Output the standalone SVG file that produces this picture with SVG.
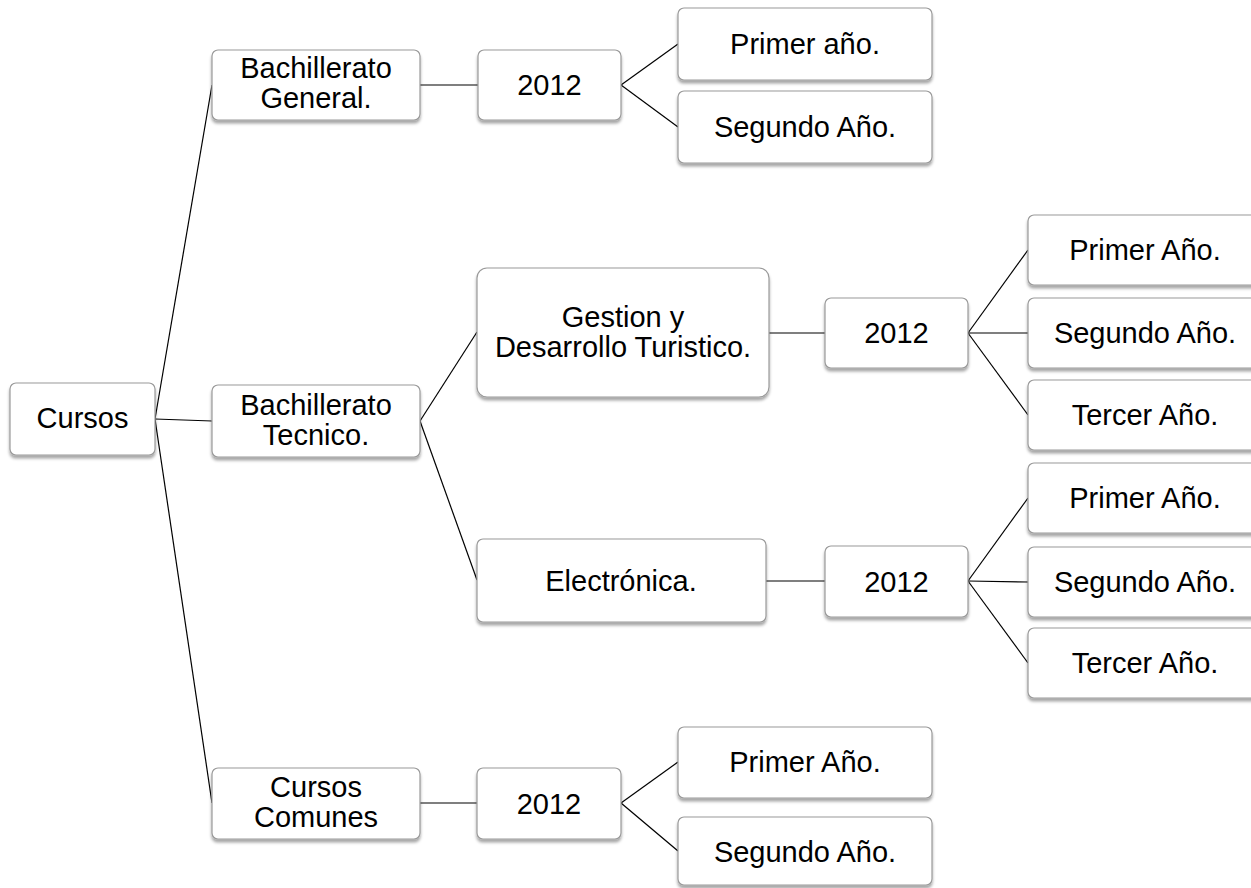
<svg xmlns="http://www.w3.org/2000/svg" width="1251" height="888" viewBox="0 0 1251 888">
<defs>
<filter id="sh" x="-10%" y="-10%" width="120%" height="130%">
<feDropShadow dx="0" dy="3" stdDeviation="1.8" flood-color="#000" flood-opacity="0.35"/>
</filter>
<style>
.box{fill:#fff;stroke:#9a9a9a;stroke-width:1.2;filter:url(#sh)}
.t{font-family:"Liberation Sans",Arial,sans-serif;font-size:29px;fill:#000;text-anchor:middle}
.c line{stroke:#000;stroke-width:1.2}
</style>
</defs>
<rect width="1251" height="888" fill="#fff"/>
<g class="c" id="connectors">
<line x1="155" y1="419" x2="212" y2="85"/>
<line x1="155" y1="419" x2="212" y2="421"/>
<line x1="155" y1="419" x2="212" y2="803"/>
<line x1="420" y1="85" x2="478" y2="85"/>
<line x1="621" y1="85" x2="678" y2="44"/>
<line x1="621" y1="85" x2="678" y2="127"/>
<line x1="420" y1="421" x2="477" y2="332"/>
<line x1="420" y1="421" x2="477" y2="580"/>
<line x1="769" y1="333" x2="825" y2="333"/>
<line x1="968" y1="333" x2="1028" y2="250"/>
<line x1="968" y1="333" x2="1028" y2="333"/>
<line x1="968" y1="333" x2="1028" y2="415"/>
<line x1="766" y1="581" x2="825" y2="581"/>
<line x1="968" y1="581" x2="1028" y2="498"/>
<line x1="968" y1="581" x2="1028" y2="582"/>
<line x1="968" y1="581" x2="1028" y2="663"/>
<line x1="420" y1="803" x2="477" y2="803"/>
<line x1="621" y1="803" x2="678" y2="762"/>
<line x1="621" y1="803" x2="678" y2="851"/>
</g>
<g id="cursos"><rect class="box" x="10" y="383" width="145" height="72" rx="6"/><text class="t" x="82.5" y="428">Cursos</text></g>
<g id="bgen"><rect class="box" x="212" y="50" width="208" height="70" rx="6"/><text class="t" x="316" y="78">Bachillerato</text><text class="t" x="316" y="108">General.</text></g>
<g id="bgen2012"><rect class="box" x="478" y="50" width="143" height="70" rx="6"/><text class="t" x="549.5" y="95">2012</text></g>
<g id="bgen_p1"><rect class="box" x="678" y="8" width="254" height="72" rx="6"/><text class="t" x="805" y="54">Primer año.</text></g>
<g id="bgen_p2"><rect class="box" x="678" y="91" width="254" height="72" rx="6"/><text class="t" x="805" y="137">Segundo Año.</text></g>
<g id="btec"><rect class="box" x="212" y="385" width="208" height="72" rx="6"/><text class="t" x="316" y="415">Bachillerato</text><text class="t" x="316" y="445">Tecnico.</text></g>
<g id="gest"><rect class="box" x="477" y="268" width="292" height="129" rx="10"/><text class="t" x="623" y="327">Gestion y</text><text class="t" x="623" y="357">Desarrollo Turistico.</text></g>
<g id="gest2012"><rect class="box" x="825" y="298" width="143" height="70" rx="6"/><text class="t" x="896.5" y="343">2012</text></g>
<g id="g1"><rect class="box" x="1028" y="215" width="234" height="70" rx="6"/><text class="t" x="1145" y="260">Primer Año.</text></g>
<g id="g2"><rect class="box" x="1028" y="298" width="234" height="70" rx="6"/><text class="t" x="1145" y="343">Segundo Año.</text></g>
<g id="g3"><rect class="box" x="1028" y="380" width="234" height="70" rx="6"/><text class="t" x="1145" y="425">Tercer Año.</text></g>
<g id="elec"><rect class="box" x="477" y="539" width="289" height="83" rx="6"/><text class="t" x="621" y="591">Electrónica.</text></g>
<g id="elec2012"><rect class="box" x="825" y="546" width="143" height="71" rx="6"/><text class="t" x="896.5" y="592">2012</text></g>
<g id="e1"><rect class="box" x="1028" y="463" width="234" height="70" rx="6"/><text class="t" x="1145" y="508">Primer Año.</text></g>
<g id="e2"><rect class="box" x="1028" y="547" width="234" height="70" rx="6"/><text class="t" x="1145" y="592">Segundo Año.</text></g>
<g id="e3"><rect class="box" x="1028" y="628" width="234" height="70" rx="6"/><text class="t" x="1145" y="673">Tercer Año.</text></g>
<g id="cc"><rect class="box" x="212" y="768" width="208" height="71" rx="6"/><text class="t" x="316" y="797">Cursos</text><text class="t" x="316" y="827">Comunes</text></g>
<g id="cc2012"><rect class="box" x="477" y="768" width="144" height="71" rx="6"/><text class="t" x="549" y="814">2012</text></g>
<g id="cc_p1"><rect class="box" x="678" y="727" width="254" height="71" rx="6"/><text class="t" x="805" y="772">Primer Año.</text></g>
<g id="cc_p2"><rect class="box" x="678" y="817" width="254" height="68" rx="6"/><text class="t" x="805" y="862">Segundo Año.</text></g>
</svg>
